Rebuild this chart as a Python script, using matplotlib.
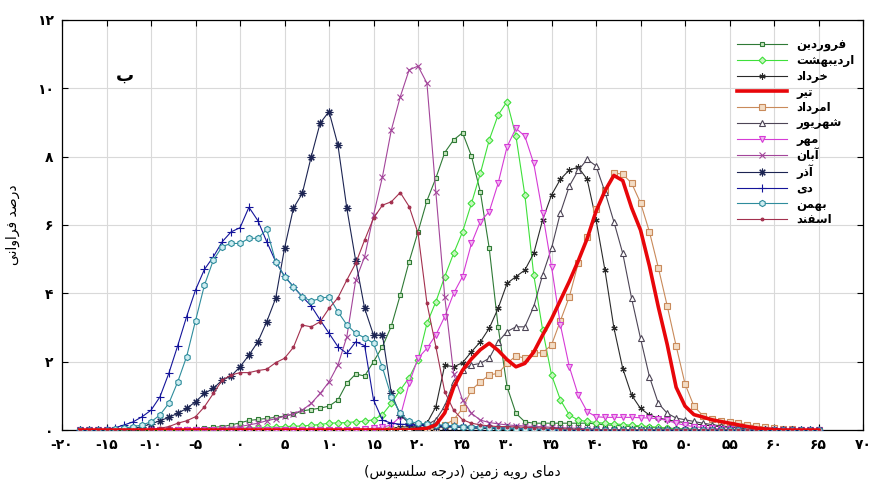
import numpy as np
import matplotlib
matplotlib.use("Agg")
import matplotlib.pyplot as plt

# temperature axis of the data (deg C, 1 degree steps)
temps = list(range(-18, 66))

# month series: (first temperature); outside = 0
farvardin_start = -5
farvardin = [0.02, 0.05, 0.08, 0.1, 0.15, 0.21, 0.28, 0.31, 0.34, 0.37, 0.41, 0.46, 0.56,
             0.6, 0.64, 0.7, 0.88, 1.37, 1.64, 1.58, 2.0, 2.44, 3.04, 3.95, 4.93, 5.8, 6.71,
             7.37, 8.12, 8.49, 8.7, 8.02, 6.97, 5.32, 3.02, 1.27, 0.49, 0.24, 0.2, 0.2, 0.2,
             0.2, 0.2, 0.2, 0.2, 0.18, 0.15, 0.14, 0.12, 0.1, 0.1, 0.08, 0.06, 0.05, 0.04,
             0.03, 0.02, 0.01]
ordibehesht_start = 0
ordibehesht = [0.05, 0.06, 0.07, 0.08, 0.09, 0.1, 0.11, 0.12, 0.14, 0.16, 0.2, 0.21, 0.22,
               0.24, 0.26, 0.3, 0.45, 0.78, 1.17, 1.53, 2.05, 3.12, 3.75, 4.49, 5.17, 5.8,
               6.63, 7.51, 8.49, 9.22, 9.61, 8.6, 6.88, 4.54, 2.93, 1.61, 0.88, 0.44, 0.29,
               0.25, 0.22, 0.2, 0.18, 0.16, 0.14, 0.12, 0.1, 0.08, 0.06, 0.04, 0.03, 0.02]
khordad_start = 15
khordad = [0.02, 0.04, 0.06, 0.08, 0.1, 0.12, 0.2, 0.68, 1.9, 1.85, 1.97, 2.29, 2.58, 2.98,
           3.56, 4.29, 4.49, 4.68, 5.17, 6.15, 6.88, 7.34, 7.61, 7.69, 7.34, 6.15, 4.68, 3.0,
           1.8, 1.02, 0.63, 0.44, 0.35, 0.3, 0.25, 0.22, 0.18, 0.15, 0.12, 0.1, 0.08, 0.06,
           0.04, 0.03, 0.02, 0.01]
tir_start = 20
tir = [0.02, 0.05, 0.15, 0.5, 1.25, 1.75, 2.08, 2.35, 2.54, 2.33, 2.06, 1.85, 1.95, 2.28,
       2.78, 3.25, 3.8, 4.35, 4.95, 5.6, 6.4, 7.0, 7.45, 7.3, 6.5, 5.85, 4.8, 3.6, 2.5, 1.25,
       0.7, 0.45, 0.38, 0.3, 0.25, 0.2, 0.15, 0.1, 0.06, 0.03, 0.01]
amordad_start = 22
amordad = [0.05, 0.15, 0.3, 0.63, 1.17, 1.41, 1.61, 1.66, 1.95, 2.17, 2.1, 2.26, 2.26, 2.49,
           3.2, 3.9, 4.88, 5.66, 6.47, 7.02, 7.52, 7.49, 7.22, 6.65, 5.8, 4.75, 3.63, 2.46,
           1.35, 0.7, 0.42, 0.32, 0.26, 0.24, 0.2, 0.16, 0.12, 0.08, 0.05, 0.03, 0.02]
shahrivar_start = 18
shahrivar = [0.03, 0.05, 0.1, 0.15, 0.3, 0.7, 1.41, 1.76, 1.9, 1.95, 2.1, 2.58, 2.88, 3.02,
             3.02, 3.61, 4.54, 5.32, 6.36, 7.14, 7.6, 7.92, 7.73, 6.97, 6.1, 5.17, 3.85, 2.68,
             1.56, 0.78, 0.49, 0.35, 0.3, 0.25, 0.2, 0.16, 0.12, 0.1, 0.08, 0.05, 0.03, 0.02]
mehr_start = 14
mehr = [0.03, 0.05, 0.08, 0.15, 0.39, 1.37, 2.1, 2.39, 2.78, 3.32, 4.0, 4.49, 5.46, 6.1, 6.39,
        7.22, 8.29, 8.83, 8.6, 7.8, 6.34, 4.78, 3.07, 1.85, 1.02, 0.54, 0.39, 0.37, 0.37, 0.37,
        0.37, 0.36, 0.35, 0.33, 0.28, 0.2, 0.14, 0.1, 0.07, 0.05, 0.03, 0.02]
aban_start = -2
aban = [0.05, 0.07, 0.1, 0.15, 0.2, 0.27, 0.33, 0.4, 0.48, 0.58, 0.78, 1.07, 1.41, 1.9, 2.73,
        4.39, 5.07, 6.29, 7.41, 8.78, 9.75, 10.54, 10.65, 10.15, 6.97, 3.9, 1.65, 0.88, 0.49,
        0.29, 0.22, 0.18, 0.15, 0.13, 0.12, 0.1, 0.1, 0.08, 0.07, 0.06, 0.05, 0.04, 0.03]
azar_start = -13
azar = [0.02, 0.05, 0.1, 0.18, 0.27, 0.37, 0.49, 0.63, 0.83, 1.07, 1.22, 1.46, 1.58, 1.85,
        2.19, 2.58, 3.17, 3.85, 5.32, 6.49, 6.93, 8.0, 8.98, 9.32, 8.34, 6.49, 4.95, 3.56, 2.78,
        2.78, 1.07, 0.44, 0.2, 0.15, 0.12, 0.1, 0.1, 0.1, 0.08, 0.07, 0.06, 0.05, 0.04, 0.03,
        0.02]
dey_start = -16
dey = [0.01, 0.02, 0.07, 0.15, 0.24, 0.39, 0.58, 0.97, 1.66, 2.47, 3.32, 4.1, 4.7, 5.07, 5.51,
       5.8, 5.92, 6.52, 6.13, 5.51, 4.93, 4.5, 4.19, 3.9, 3.63, 3.22, 2.83, 2.44, 2.24, 2.58,
       2.47, 0.88, 0.29, 0.2, 0.17, 0.16, 0.15, 0.15, 0.14, 0.13, 0.12, 0.11, 0.1, 0.09, 0.08,
       0.07, 0.06, 0.05, 0.04, 0.03, 0.02, 0.01]
bahman_start = -14
bahman = [0.02, 0.05, 0.1, 0.15, 0.24, 0.44, 0.78, 1.41, 2.15, 3.2, 4.24, 4.97, 5.37, 5.46,
          5.46, 5.61, 5.61, 5.87, 4.93, 4.49, 4.2, 3.9, 3.77, 3.85, 3.9, 3.46, 3.08, 2.83, 2.7,
          2.54, 1.83, 0.98, 0.49, 0.25, 0.2, 0.18, 0.16, 0.14, 0.12, 0.1, 0.09, 0.08, 0.07,
          0.06, 0.05, 0.04, 0.03, 0.02]
esfand_start = -10
esfand = [0.02, 0.05, 0.1, 0.2, 0.27, 0.39, 0.68, 1.07, 1.46, 1.61, 1.68, 1.68, 1.74, 1.78,
          1.97, 2.1, 2.42, 3.07, 3.02, 3.17, 3.56, 3.87, 4.39, 4.88, 5.56, 6.2, 6.58, 6.68,
          6.95, 6.54, 5.76, 3.71, 2.44, 1.12, 0.58, 0.3, 0.2, 0.15, 0.12, 0.1, 0.1, 0.09, 0.08,
          0.07, 0.06, 0.05, 0.04, 0.03, 0.02]

month_names = ['فروردین', 'اردیبهشت', 'خرداد', 'تیر', 'امرداد', 'شهریور',
               'مهر', 'آبان', 'آذر', 'دی', 'بهمن', 'اسفند']
x_ticks = list(range(-20, 75, 5))
y_ticks = list(range(0, 14, 2))


# --- tiny persian shaping: matplotlib does no arabic joining / rtl ---
FORMS = {  # isolated, final, initial, medial
    'ا': ('\uFE8D', '\uFE8E', None, None),
    'آ': ('\uFE81', '\uFE82', None, None),
    'ب': ('\uFE8F', '\uFE90', '\uFE91', '\uFE92'),
    'ت': ('\uFE95', '\uFE96', '\uFE97', '\uFE98'),
    'ج': ('\uFE9D', '\uFE9E', '\uFE9F', '\uFEA0'),
    'خ': ('\uFEA5', '\uFEA6', '\uFEA7', '\uFEA8'),
    'د': ('\uFEA9', '\uFEAA', None, None),
    'ذ': ('\uFEAB', '\uFEAC', None, None),
    'ر': ('\uFEAD', '\uFEAE', None, None),
    'ز': ('\uFEAF', '\uFEB0', None, None),
    'س': ('\uFEB1', '\uFEB2', '\uFEB3', '\uFEB4'),
    'ش': ('\uFEB5', '\uFEB6', '\uFEB7', '\uFEB8'),
    'ص': ('\uFEB9', '\uFEBA', '\uFEBB', '\uFEBC'),
    'ف': ('\uFED1', '\uFED2', '\uFED3', '\uFED4'),
    'ل': ('\uFEDD', '\uFEDE', '\uFEDF', '\uFEE0'),
    'م': ('\uFEE1', '\uFEE2', '\uFEE3', '\uFEE4'),
    'ن': ('\uFEE5', '\uFEE6', '\uFEE7', '\uFEE8'),
    'ه': ('\uFEE9', '\uFEEA', '\uFEEB', '\uFEEC'),
    'و': ('\uFEED', '\uFEEE', None, None),
    'ی': ('\uFEEF', '\uFEF0', '\uFEF3', '\uFEF4'),
}


def fa(text):
    out = []
    for i, c in enumerate(text):
        if c not in FORMS:
            out.append(c)
            continue
        iso, fin, ini, med = FORMS[c]
        prev = text[i - 1] if i > 0 else ''
        nxt = text[i + 1] if i + 1 < len(text) else ''
        jp = prev in FORMS and FORMS[prev][2] is not None
        jn = nxt in FORMS and ini is not None
        if jp and jn:
            out.append(med)
        elif jp:
            out.append(fin)
        elif jn:
            out.append(ini)
        else:
            out.append(iso)
    return ''.join(reversed(out)).translate(str.maketrans('()', ')('))


def fa_num(n):
    return str(n).translate(str.maketrans('0123456789', '۰۱۲۳۴۵۶۷۸۹'))


def pad(start, vals):
    y = np.zeros(len(temps))
    i0 = temps.index(start)
    y[i0:i0 + len(vals)] = vals
    return y


plt.rcParams['font.family'] = ['DejaVu Sans']
plt.rcParams['font.weight'] = 'bold'

fig = plt.figure(figsize=(8.7, 4.87), dpi=100)
ax = fig.add_axes([0.0713, 0.117, 0.9207, 0.842])

series = [
    (farvardin_start, farvardin, '#2f7a36', 's', dict(mfc='#c8e6c0', ms=3.5)),
    (ordibehesht_start, ordibehesht, '#3ee03a', 'D', dict(mfc='#c8f5c0', ms=3.5)),
    (khordad_start, khordad, '#2a2a2a', (6, 2, 0), dict(ms=4.5)),
    (tir_start, tir, '#e8060a', None, dict(lw=2.6)),
    (amordad_start, amordad, '#c98a5a', 's', dict(mfc='#f3dcc4', ms=4)),
    (shahrivar_start, shahrivar, '#4d4556', '^', dict(mfc='white', ms=4.5)),
    (mehr_start, mehr, '#d63bd6', 'v', dict(mfc='#f0b8f0', ms=4.5)),
    (aban_start, aban, '#a3459a', 'x', dict(ms=4)),
    (azar_start, azar, '#1c2452', (8, 2, 0), dict(ms=5.5)),
    (dey_start, dey, '#14149a', '+', dict(ms=6)),
    (bahman_start, bahman, '#2e8c9c', 'h', dict(mfc='#d0eef2', ms=4.5)),
    (esfand_start, esfand, '#a3304e', '.', dict(ms=4)),
]

for name, (st, vals, col, mk, kw) in zip(month_names, series):
    lw = kw.pop('lw', 0.8)
    ax.plot(temps, pad(st, vals), color=col, marker=mk, lw=lw, mew=0.8,
            label=fa(name), zorder=4 if mk is None else 3, **kw)

ax.set_xlim(-20, 70)
ax.set_ylim(0, 12)
ax.set_xticks(x_ticks)
ax.set_xticklabels([('-' + fa_num(-t)) if t < 0 else fa_num(t) for t in x_ticks], fontsize=10)
ax.set_yticks(y_ticks)
ax.set_yticklabels([fa_num(t) for t in y_ticks], fontsize=10)
ax.tick_params(direction='in', top=True, right=True, length=4, pad=6)
ax.grid(True, color='#d9d9d9', lw=0.8)
ax.set_axisbelow(True)
for s in ax.spines.values():
    s.set_linewidth(0.9)

ax.set_xlabel(fa('دمای رویه زمین (درجه سلسیوس)'), fontsize=10, labelpad=9)
ax.set_ylabel(fa('درصد فراوانی'), fontsize=10, labelpad=12)
ax.text(0.079, 0.865, fa('ب'), transform=ax.transAxes, fontsize=13, ha='center', va='center')

ax.legend(loc='upper right', bbox_to_anchor=(1.0, 0.975), frameon=False, fontsize=8.5,
          handlelength=4.2, labelspacing=0.22, borderaxespad=0.3)

fig.savefig('out.png', dpi=100)
